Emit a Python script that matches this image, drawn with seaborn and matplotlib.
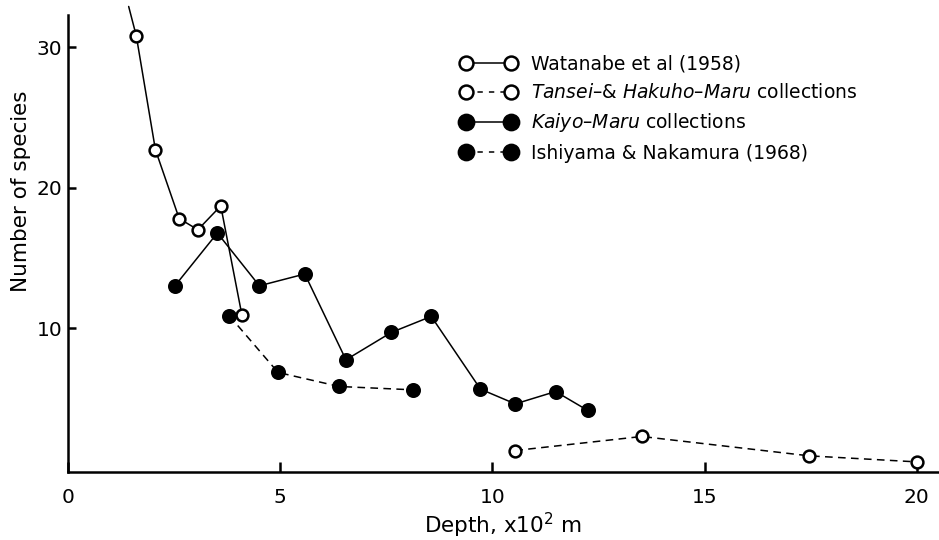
import matplotlib
matplotlib.use("Agg")
import matplotlib.pyplot as plt
from matplotlib.lines import Line2D
from matplotlib.mathtext import MathTextParser
from matplotlib.font_manager import FontProperties
import seaborn as sns

# Data (depth in 100 m, number of species)
watanabe_x = [1.43, 1.61, 2.06, 2.62, 3.06, 3.60, 4.10]
watanabe_y = [32.9, 30.8, 22.7, 17.8, 17.0, 18.7, 10.9]

tansei_x = [10.54, 13.52, 17.47, 20.0]
tansei_y = [1.28, 2.28, 0.90, 0.47]

kaiyo_x = [2.51, 3.52, 4.51, 5.58, 6.55, 7.62, 8.56, 9.72, 10.54, 11.49, 12.25]
kaiyo_y = [12.97, 16.77, 13.01, 13.85, 7.74, 9.69, 10.83, 5.65, 4.60, 5.48, 4.13]

ishiyama_x = [3.80, 4.95, 6.39, 8.14]
ishiyama_y = [10.88, 6.84, 5.84, 5.60]

labels = ["Watanabe et al (1958)",
          r"$\mathit{Tansei}$–& $\mathit{Hakuho}$–$\mathit{Maru}$ collections",
          r"$\mathit{Kaiyo}$–$\mathit{Maru}$ collections",
          "Ishiyama & Nakamura (1968)"]
plain_labels = ["Watanabe et al (1958)",
                "Tansei–& Hakuho–Maru collections",
                "Kaiyo–Maru collections",
                "Ishiyama & Nakamura (1968)"]

sns.set_theme(style="ticks")
plt.rcParams["font.family"] = ["DejaVu Sans"]
plt.rcParams["mathtext.fontset"] = "custom"
plt.rcParams["mathtext.rm"] = "DejaVu Sans"
plt.rcParams["mathtext.it"] = "DejaVu Sans:italic"
for key in ["text.color", "axes.labelcolor", "xtick.color", "ytick.color",
            "axes.edgecolor"]:
    plt.rcParams[key] = "black"

# fall back to plain text if mathtext cannot parse a label
parser = MathTextParser("agg")
for i, lab in enumerate(labels):
    if "$" in lab:
        try:
            parser.parse("$" + lab.split("$")[1] + "$", 100,
                         FontProperties(size=14))
        except Exception:
            labels[i] = plain_labels[i]

fig = plt.figure(figsize=(9.39, 5.40), dpi=100)
ax = fig.add_axes([0.0724, 0.1254, 0.9265, 0.847])

dash = (0, (5, 3.5))
lw = 1.1
mew = 1.8
open_style = dict(marker="o", markerfacecolor="white",
                  markeredgecolor="black", markeredgewidth=mew)
fill_style = dict(marker="o", markerfacecolor="black",
                  markeredgecolor="black", markeredgewidth=mew)

# lead-in segment of Watanabe curve that runs above the frame
ax.plot(watanabe_x[:2], watanabe_y[:2], color="black", lw=lw, clip_on=False)
sns.lineplot(x=watanabe_x[1:], y=watanabe_y[1:], ax=ax, color="black",
             lw=lw, sort=False, markersize=8.5, **open_style)
sns.lineplot(x=tansei_x, y=tansei_y, ax=ax, color="black", lw=lw,
             linestyle=dash, sort=False, clip_on=False, markersize=8.5,
             **open_style)
sns.lineplot(x=kaiyo_x, y=kaiyo_y, ax=ax, color="black", lw=lw,
             sort=False, markersize=9, **fill_style)
sns.lineplot(x=ishiyama_x, y=ishiyama_y, ax=ax, color="black", lw=lw,
             linestyle=dash, sort=False, markersize=9, **fill_style)

ax.set_xlim(0, 20.5)
ax.set_ylim(-0.27, 32.3)
ax.set_xticks([0, 5, 10, 15, 20])
ax.set_yticks([10, 20, 30])
sns.despine(ax=ax)
for s in ["left", "bottom"]:
    ax.spines[s].set_linewidth(1.8)
ax.tick_params(axis="x", direction="in", length=7, width=1.8, pad=11,
               labelsize=14.5)
ax.tick_params(axis="y", direction="in", length=6, width=1.8, pad=4,
               labelsize=14.5)

ax.set_xlabel("Depth, x10$^{2}$ m", fontsize=15.5, labelpad=3)
ax.set_ylabel("Number of species", fontsize=15.5)
ax.yaxis.set_label_coords(-0.0425, 0.615)

leg_dash = (0, (3.5, 4))
handles = [
    Line2D([], [], color="black", lw=lw, markersize=10, **open_style),
    Line2D([], [], color="black", lw=lw, linestyle=leg_dash, markersize=10,
           **open_style),
    Line2D([], [], color="black", lw=lw, markersize=11, **fill_style),
    Line2D([], [], color="black", lw=lw, linestyle=leg_dash, markersize=11,
           **fill_style),
]
fig.legend(handles, labels, loc="upper left",
           bbox_to_anchor=(460 / 939, 1 - 55 / 540), frameon=False,
           fontsize=13.5, numpoints=2, handlelength=3.0, handletextpad=0.8,
           labelspacing=0.49, borderpad=0, borderaxespad=0)

fig.savefig("out.png", dpi=100, facecolor="white")
